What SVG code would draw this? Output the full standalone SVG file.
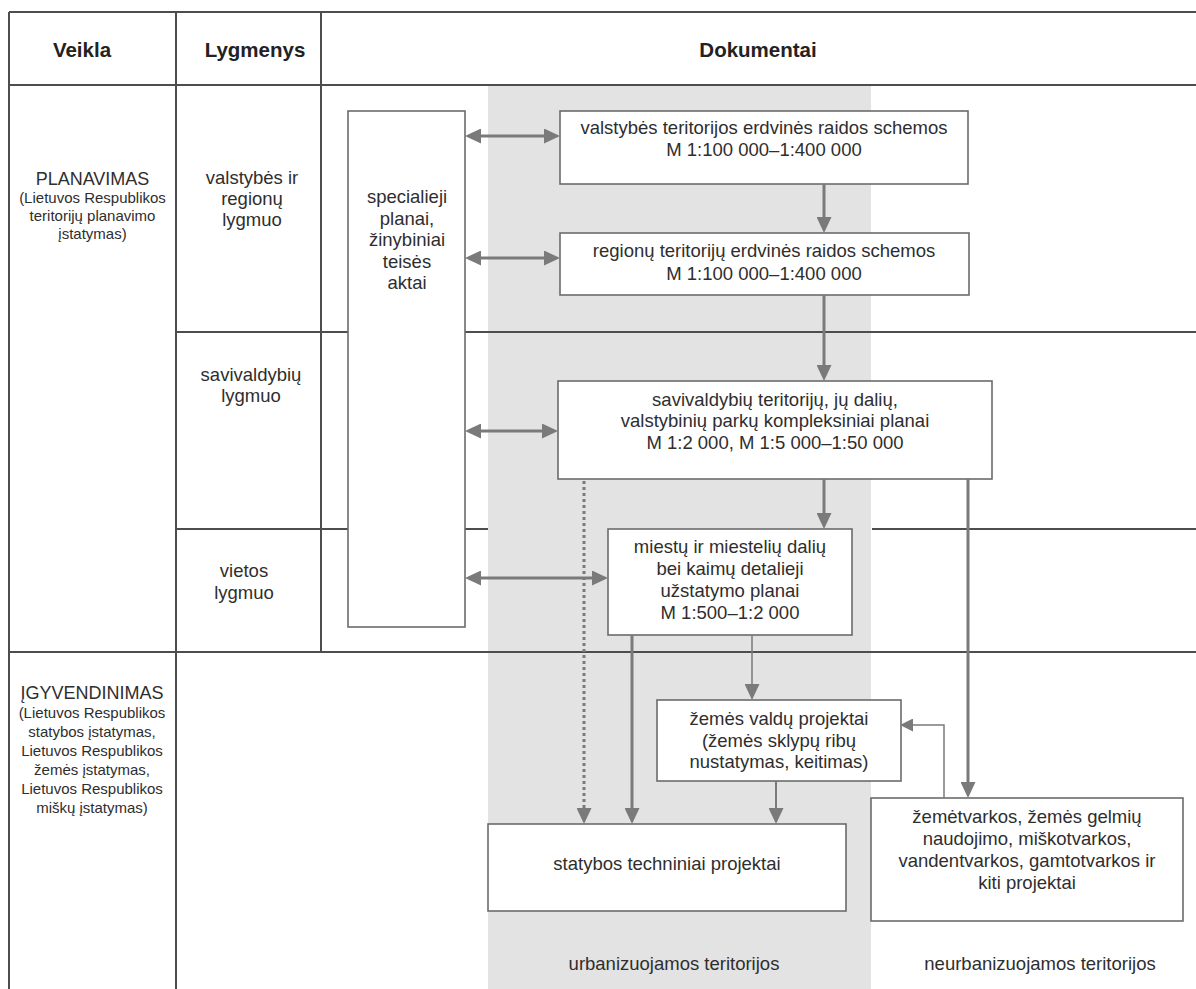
<svg xmlns="http://www.w3.org/2000/svg" width="1196" height="989" viewBox="0 0 1196 989">
<style>
.tl{stroke:#4d4d4d;stroke-width:2;fill:none}
.box{fill:#fff;stroke:#6b6b6b;stroke-width:1.6}
.t{font-family:"Liberation Sans",Arial,sans-serif;font-size:18.5px;fill:#2e2e2e;text-anchor:middle}
.s{font-size:15px}
.h{font-family:"Liberation Sans",Arial,sans-serif;font-size:20.5px;font-weight:bold;fill:#222;text-anchor:middle}
.c{stroke:#7a7a7a;fill:none}
.th{stroke-width:3}
.tn{stroke-width:2}
.tt{stroke-width:1.5}
.dot{stroke-width:3;stroke-dasharray:3 3}
</style>
<defs>
<marker id="ah" markerUnits="userSpaceOnUse" markerWidth="16" markerHeight="15" refX="8" refY="7.5" orient="auto-start-reverse" viewBox="0 0 16 15">
<path d="M0,0 L16,7.5 L0,15 z" fill="#7a7a7a"/>
</marker>
<marker id="as" markerUnits="userSpaceOnUse" markerWidth="13" markerHeight="13" refX="6" refY="6.5" orient="auto" viewBox="0 0 13 13">
<path d="M0,0 L13,6.5 L0,13 z" fill="#7a7a7a"/>
</marker>
</defs>
<rect width="1196" height="989" fill="#fff"/>
<rect id="urban-zone" x="488" y="86" width="383" height="903" fill="#e3e3e3"/>
<g id="table">
<line class="tl" x1="9" y1="12" x2="1196" y2="12"/>
<line class="tl" x1="9" y1="85" x2="1196" y2="85"/>
<line class="tl" x1="176" y1="332" x2="348" y2="332"/>
<line class="tl" x1="465" y1="332" x2="1196" y2="332"/>
<line class="tl" x1="176" y1="529" x2="348" y2="529"/>
<line class="tl" x1="465" y1="529" x2="488" y2="529"/>
<line class="tl" x1="872" y1="529" x2="1196" y2="529"/>
<line class="tl" x1="9" y1="652" x2="1196" y2="652"/>
<line class="tl" x1="9" y1="12" x2="9" y2="989"/>
<line class="tl" x1="176" y1="12" x2="176" y2="989"/>
<line class="tl" x1="321" y1="12" x2="321" y2="652"/>
<text class="h" x="82" y="57">Veikla</text>
<text class="h" x="255" y="57">Lygmenys</text>
<text class="h" x="758" y="57">Dokumentai</text>
</g>
<g id="planavimas">
<text class="t" x="92.5" y="185" style="font-size:18px">PLANAVIMAS</text>
<text class="t s" x="92.5" y="203">(Lietuvos Respublikos</text>
<text class="t s" x="92.5" y="221">teritorijų planavimo</text>
<text class="t s" x="92.5" y="239">įstatymas)</text>
</g>
<g id="igyvendinimas">
<text class="t" x="92" y="699" style="font-size:18px">ĮGYVENDINIMAS</text>
<text class="t s" x="92" y="718">(Lietuvos Respublikos</text>
<text class="t s" x="92" y="737">statybos įstatymas,</text>
<text class="t s" x="92" y="756">Lietuvos Respublikos</text>
<text class="t s" x="92" y="775">žemės įstatymas,</text>
<text class="t s" x="92" y="794">Lietuvos Respublikos</text>
<text class="t s" x="92" y="813">miškų įstatymas)</text>
</g>
<g id="lvl-valstybes">
<text class="t" x="252" y="184">valstybės ir</text>
<text class="t" x="252" y="205">regionų</text>
<text class="t" x="252" y="226">lygmuo</text>
</g>
<g id="lvl-savivaldybiu">
<text class="t" x="251" y="381">savivaldybių</text>
<text class="t" x="251" y="402">lygmuo</text>
</g>
<g id="lvl-vietos">
<text class="t" x="244" y="577">vietos</text>
<text class="t" x="244" y="599">lygmuo</text>
</g>
<g id="specialieji">
<rect class="box" x="348" y="111" width="117" height="516"/>
<text class="t" x="407" y="203">specialieji</text>
<text class="t" x="407" y="224.5">planai,</text>
<text class="t" x="407" y="246">žinybiniai</text>
<text class="t" x="407" y="267.5">teisės</text>
<text class="t" x="407" y="289">aktai</text>
</g>
<g id="valstybes-schemos">
<rect class="box" x="560" y="111" width="408" height="73"/>
<text class="t" x="764" y="134">valstybės teritorijos erdvinės raidos schemos</text>
<text class="t" x="764" y="156">M 1:100 000–1:400 000</text>
</g>
<g id="regionu-schemos">
<rect class="box" x="560" y="233" width="409" height="62"/>
<text class="t" x="764" y="257">regionų teritorijų erdvinės raidos schemos</text>
<text class="t" x="764" y="280">M 1:100 000–1:400 000</text>
</g>
<g id="kompleksiniai">
<rect class="box" x="558" y="381" width="434" height="98"/>
<text class="t" x="775" y="406">savivaldybių teritorijų, jų dalių,</text>
<text class="t" x="775" y="427">valstybinių parkų kompleksiniai planai</text>
<text class="t" x="775" y="449">M 1:2 000, M 1:5 000–1:50 000</text>
</g>
<g id="detalieji">
<rect class="box" x="608" y="529" width="244" height="106"/>
<text class="t" x="730" y="553">miestų ir miestelių dalių</text>
<text class="t" x="730" y="575">bei kaimų detalieji</text>
<text class="t" x="730" y="597">užstatymo planai</text>
<text class="t" x="730" y="619">M 1:500–1:2 000</text>
</g>
<g id="zemes-valdu">
<rect class="box" x="657" y="700" width="244" height="81"/>
<text class="t" x="779" y="725">žemės valdų projektai</text>
<text class="t" x="779" y="747">(žemės sklypų ribų</text>
<text class="t" x="779" y="768">nustatymas, keitimas)</text>
</g>
<g id="statybos">
<rect class="box" x="488" y="824" width="358" height="87"/>
<text class="t" x="667" y="870">statybos techniniai projektai</text>
</g>
<g id="zemetvarkos">
<rect class="box" x="871" y="798" width="312" height="123"/>
<text class="t" x="1027" y="823">žemėtvarkos, žemės gelmių</text>
<text class="t" x="1027" y="845">naudojimo, miškotvarkos,</text>
<text class="t" x="1027" y="867">vandentvarkos, gamtotvarkos ir</text>
<text class="t" x="1027" y="889">kiti projektai</text>
</g>
<g id="zone-labels">
<text class="t" x="674" y="970">urbanizuojamos teritorijos</text>
<text class="t" x="1040" y="970">neurbanizuojamos teritorijos</text>
</g>
<g id="connectors">
<line class="c th" x1="473" y1="136" x2="552" y2="136" marker-start="url(#ah)" marker-end="url(#ah)"/>
<line class="c th" x1="473" y1="258" x2="552" y2="258" marker-start="url(#ah)" marker-end="url(#ah)"/>
<line class="c th" x1="473" y1="431" x2="550" y2="431" marker-start="url(#ah)" marker-end="url(#ah)"/>
<line class="c th" x1="473" y1="578" x2="600" y2="578" marker-start="url(#ah)" marker-end="url(#ah)"/>
<line class="c th" x1="824" y1="184" x2="824" y2="225" marker-end="url(#ah)"/>
<line class="c th" x1="824" y1="295" x2="824" y2="373" marker-end="url(#ah)"/>
<line class="c th" x1="824" y1="479" x2="824" y2="521" marker-end="url(#ah)"/>
<line class="c dot" x1="584" y1="481" x2="584" y2="816" marker-end="url(#ah)"/>
<line class="c th" x1="632" y1="635" x2="632" y2="816" marker-end="url(#ah)"/>
<line class="c tt" x1="752" y1="635" x2="752" y2="692" marker-end="url(#ah)"/>
<line class="c tn" x1="776" y1="781" x2="776" y2="816" marker-end="url(#ah)"/>
<line class="c th" x1="968" y1="479" x2="968" y2="790" marker-end="url(#ah)"/>
<polyline class="c tt" points="944,798 944,725 907,725" marker-end="url(#as)"/>
</g>
</svg>
